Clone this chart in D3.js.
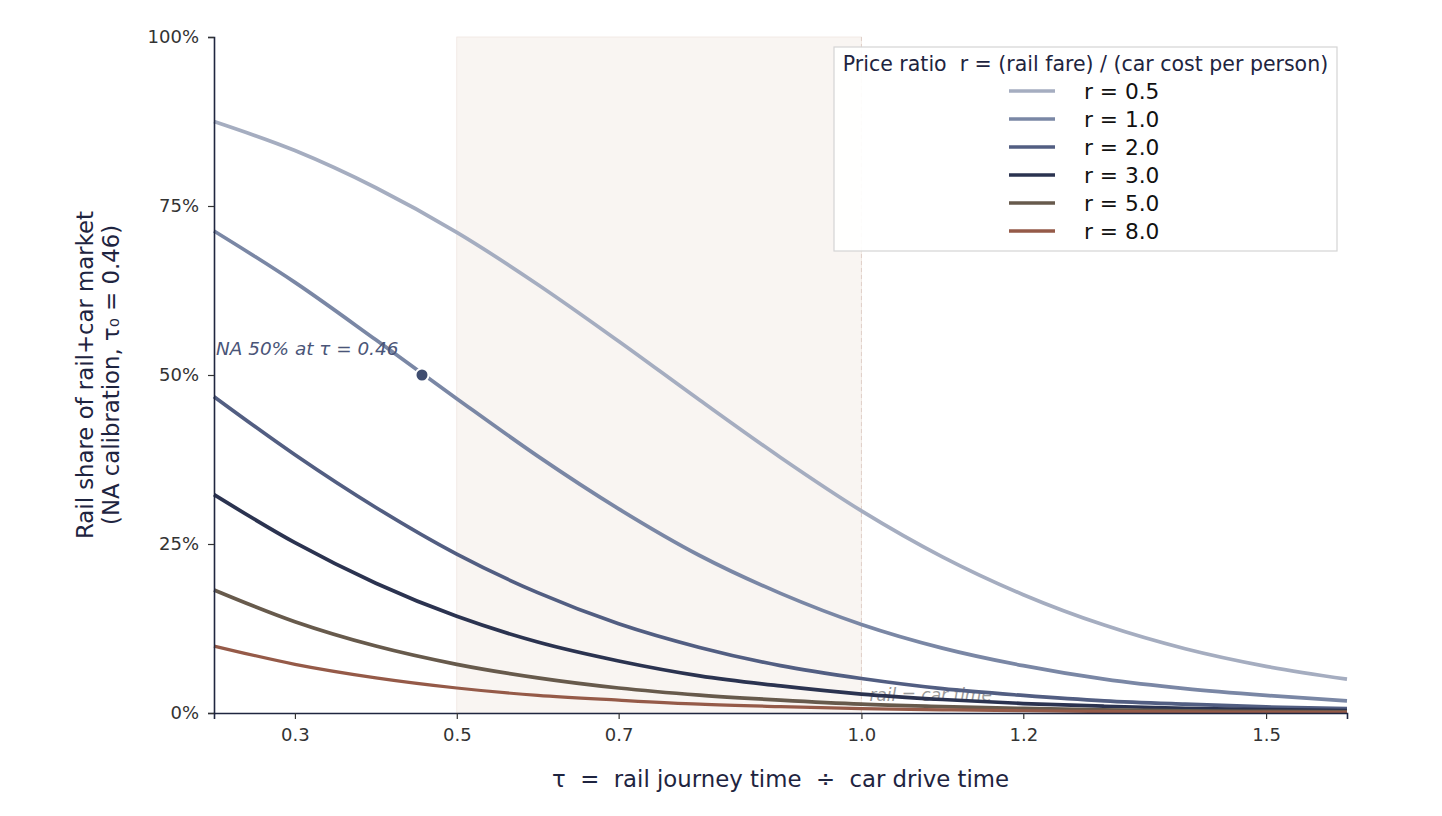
<!DOCTYPE html>
<html>
<head>
<meta charset="utf-8">
<script src="https://cdn.jsdelivr.net/npm/d3@7"></script>
<style>
  body { margin: 0; background: #fff; }
  svg text { font-family: "DejaVu Sans", sans-serif; }
</style>
</head>
<body>
<svg id="chart"></svg>
<script>
// tau values sampled along the x axis
const tauValues = [0.2, 0.3, 0.4, 0.5, 0.6, 0.7, 0.8, 0.9, 1.0, 1.1, 1.2, 1.3, 1.4, 1.5, 1.6];

// rail share (%), one array per price ratio
const shareR05 = [87.5, 83.2, 77.7, 71.1, 63.4, 55.0, 46.3, 37.8, 29.9, 23.1, 17.5, 13.0, 9.5, 6.9, 5.0];
const shareR1 = [71.3, 63.7, 55.2, 46.5, 38.0, 30.2, 23.3, 17.7, 13.1, 9.6, 7.0, 5.0, 3.6, 2.6, 1.8];
const shareR2 = [46.8, 38.2, 30.4, 23.5, 17.8, 13.2, 9.7, 7.0, 5.1, 3.6, 2.6, 1.8, 1.3, 0.9, 0.65];
const shareR3 = [32.3, 25.2, 19.2, 14.3, 10.5, 7.7, 5.5, 4.0, 2.8, 2.0, 1.4, 1.0, 0.7, 0.5, 0.35];
const shareR5 = [18.2, 13.5, 9.9, 7.2, 5.2, 3.7, 2.65, 1.9, 1.3, 0.95, 0.67, 0.47, 0.33, 0.24, 0.17];
const shareR8 = [9.9, 7.2, 5.2, 3.7, 2.6, 1.9, 1.3, 0.94, 0.66, 0.47, 0.33, 0.24, 0.17, 0.12, 0.08];

const seriesLabels = ['r = 0.5', 'r = 1.0', 'r = 2.0', 'r = 3.0', 'r = 5.0', 'r = 8.0'];
const seriesValues = [shareR05, shareR1, shareR2, shareR3, shareR5, shareR8];
const seriesColors = ['#a5adc0', '#7a87a5', '#525e82', '#2b3350', '#675a4c', '#955a48'];

const xTicks = [0.3, 0.5, 0.7, 1.0, 1.2, 1.5];
const yTicks = [0, 25, 50, 75, 100];

// shaded band and calibration point
const bandRange = [0.5, 1.0];
const calibTau = 0.457;
const calibShare = 50;

const config = {
  width: 1442,
  height: 816,
  margin: { top: 37, right: 95, bottom: 103, left: 214 },
};

const innerW = config.width - config.margin.left - config.margin.right;
const innerH = config.height - config.margin.top - config.margin.bottom;

const svg = d3.select('#chart')
  .attr('width', config.width)
  .attr('height', config.height);

const chart = svg.append('g')
  .attr('transform', `translate(${config.margin.left},${config.margin.top})`);

const xScale = d3.scaleLinear().domain([0.2, 1.6]).range([0, innerW]);
const yScale = d3.scaleLinear().domain([0, 100]).range([innerH, 0]);

// shaded band
chart.append('rect')
  .attr('x', xScale(bandRange[0]))
  .attr('y', 0)
  .attr('width', xScale(bandRange[1]) - xScale(bandRange[0]))
  .attr('height', innerH)
  .attr('fill', '#f9f5f2')
  .attr('stroke', '#efe6e0')
  .attr('stroke-width', 0.8);

chart.append('line')
  .attr('x1', xScale(1.0)).attr('x2', xScale(1.0))
  .attr('y1', 0).attr('y2', innerH)
  .attr('stroke', '#e0cfc8')
  .attr('stroke-width', 1)
  .attr('stroke-dasharray', '4,3');

chart.append('text')
  .attr('x', xScale(1.0) + 8)
  .attr('y', yScale(1.8))
  .attr('font-size', 17)
  .attr('font-style', 'italic')
  .attr('fill', '#9a9a9a')
  .text('rail = car time');

// curves
const line = d3.line()
  .x((d) => xScale(d[0]))
  .y((d) => yScale(d[1]))
  .curve(d3.curveMonotoneX);

seriesValues.forEach((vals, i) => {
  chart.append('path')
    .datum(tauValues.map((t, j) => [t, vals[j]]))
    .attr('fill', 'none')
    .attr('stroke', seriesColors[i])
    .attr('stroke-width', i === 5 ? 3.2 : 3.7)
    .attr('stroke-linejoin', 'round')
    .attr('d', line);
});

// calibration marker
chart.append('circle')
  .attr('cx', xScale(calibTau))
  .attr('cy', yScale(calibShare))
  .attr('r', 6.5)
  .attr('fill', '#3f4d70')
  .attr('stroke', '#fff')
  .attr('stroke-width', 2);

chart.append('text')
  .attr('x', 2)
  .attr('y', yScale(calibShare) - 20)
  .attr('font-size', 18.4)
  .attr('font-style', 'italic')
  .attr('fill', '#4a5578')
  .text('NA 50% at τ = 0.46');

// axes
const xAxis = d3.axisBottom(xScale)
  .tickValues(xTicks)
  .tickSize(6)
  .tickPadding(9)
  .tickFormat(d3.format('.1f'));
const yAxis = d3.axisLeft(yScale)
  .tickValues(yTicks)
  .tickSize(6)
  .tickPadding(9)
  .tickFormat((d) => `${d}%`);

const xAxisG = chart.append('g')
  .attr('transform', `translate(0,${innerH})`)
  .call(xAxis);
const yAxisG = chart.append('g').call(yAxis);

[xAxisG, yAxisG].forEach((g) => {
  g.select('.domain').attr('stroke', '#1f2640').attr('stroke-width', 1.6);
  g.selectAll('.tick line').attr('stroke', '#333').attr('stroke-width', 1.2);
  g.selectAll('.tick text')
    .attr('font-size', 18)
    .attr('fill', '#333')
    .style('font-family', '"DejaVu Sans", sans-serif');
});

// axis titles
chart.append('text')
  .attr('x', (xScale(0.2) + xScale(1.6)) / 2)
  .attr('y', innerH + 74)
  .attr('text-anchor', 'middle')
  .attr('font-size', 22.8)
  .attr('fill', '#1e2440')
  .attr('xml:space', 'preserve')
  .text('τ  =  rail journey time  ÷  car drive time');

const yTitle = chart.append('text')
  .attr('transform', `translate(-121, ${innerH / 2}) rotate(-90)`)
  .attr('text-anchor', 'middle')
  .attr('font-size', 22.8)
  .attr('fill', '#1e2440');
yTitle.append('tspan').attr('x', 0).attr('dy', 0).text('Rail share of rail+car market');
yTitle.append('tspan').attr('x', 0).attr('dy', 26).text('(NA calibration, τ₀ = 0.46)');

// legend
const legend = svg.append('g').attr('transform', 'translate(834,47)');
legend.append('rect')
  .attr('width', 503)
  .attr('height', 204)
  .attr('fill', '#fff')
  .attr('fill-opacity', 0.92)
  .attr('stroke', '#d4d4d4')
  .attr('stroke-width', 1.2);
legend.append('text')
  .attr('x', 251.5)
  .attr('y', 24)
  .attr('text-anchor', 'middle')
  .attr('font-size', 20.5)
  .attr('fill', '#1e2440')
  .attr('xml:space', 'preserve')
  .text('Price ratio  r = (rail fare) / (car cost per person)');

seriesLabels.forEach((label, i) => {
  const yy = 44 + i * 28;
  legend.append('line')
    .attr('x1', 175).attr('x2', 221)
    .attr('y1', yy).attr('y2', yy)
    .attr('stroke', seriesColors[i])
    .attr('stroke-width', 3.7);
  legend.append('text')
    .attr('x', 250)
    .attr('y', yy + 7.5)
    .attr('font-size', 21.7)
    .attr('fill', '#111')
    .text(label);
});
</script>
</body>
</html>
